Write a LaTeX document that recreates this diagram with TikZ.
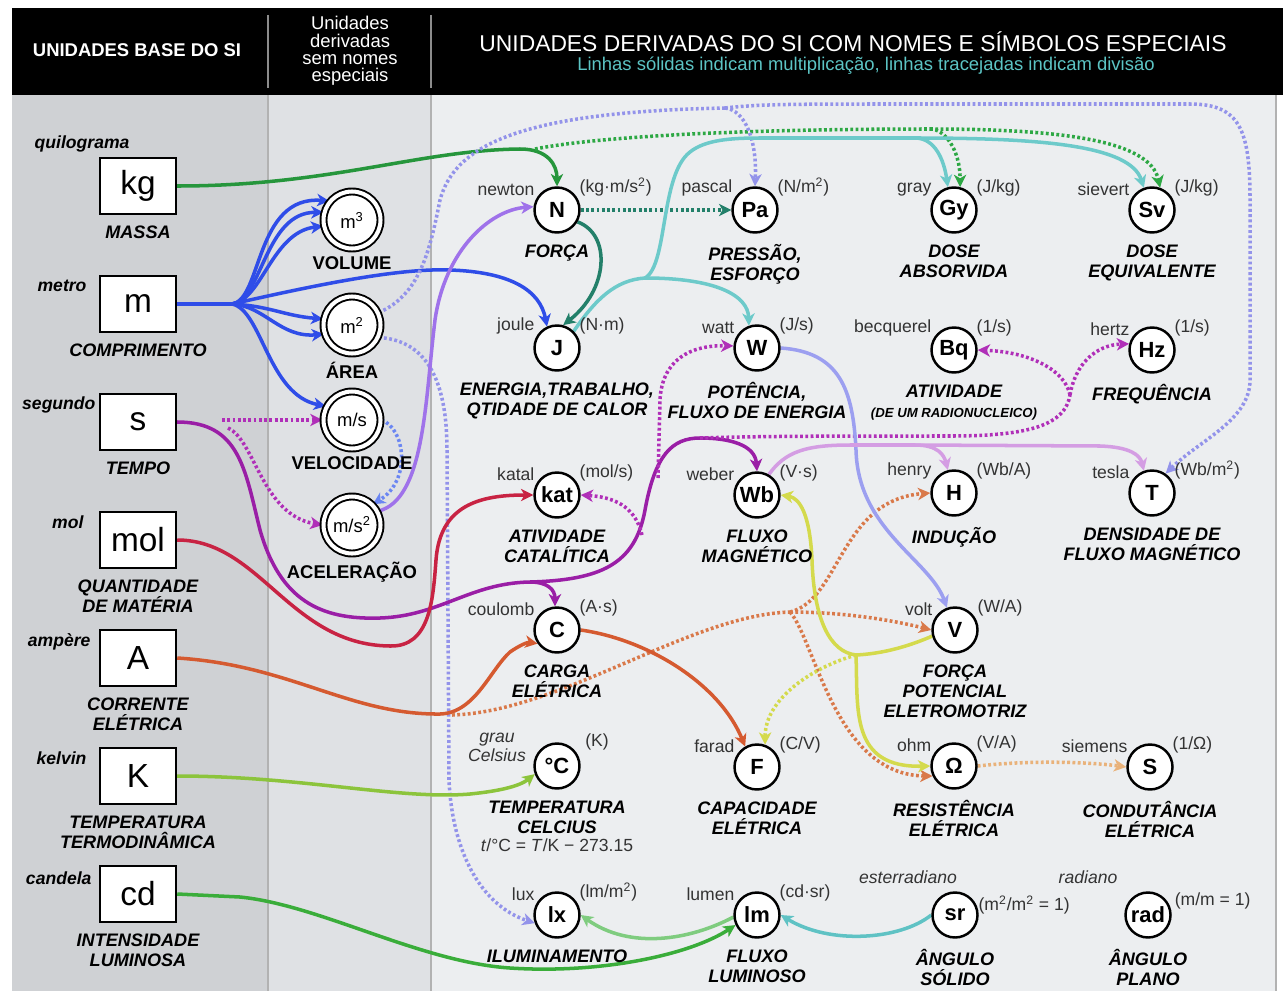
\documentclass[tikz,border=0pt]{standalone}
\usepackage{fontspec}
\setmainfont{Liberation Sans}
\usetikzlibrary{arrows.meta}

\definecolor{panelBase}{HTML}{CFD1D4}
\definecolor{panelMid}{HTML}{DFE1E4}
\definecolor{panelMain}{HTML}{ECEEF0}
\definecolor{subCyan}{HTML}{5CC4C4}
\definecolor{kgGreen}{HTML}{26963C}
\definecolor{kgDot}{HTML}{2DA844}
\definecolor{mBlue}{HTML}{2F4DE8}
\definecolor{areaDot}{HTML}{9393EA}
\definecolor{velDot}{HTML}{6B86F2}
\definecolor{accPurple}{HTML}{9F72EA}
\definecolor{sPurple}{HTML}{9A1EA6}
\definecolor{sDot}{HTML}{B02FB8}
\definecolor{molRed}{HTML}{C82343}
\definecolor{aOrange}{HTML}{D55A30}
\definecolor{aDot}{HTML}{D9794A}
\definecolor{kLime}{HTML}{8CC43C}
\definecolor{cdGreen}{HTML}{3AAD3A}
\definecolor{lmGreen}{HTML}{7FCC7F}
\definecolor{jCyan}{HTML}{6DCACA}
\definecolor{srTeal}{HTML}{5FC2C4}
\definecolor{nTeal}{HTML}{23806A}
\definecolor{wPeri}{HTML}{9C9FF0}
\definecolor{wbLav}{HTML}{D49DE3}
\definecolor{vYellow}{HTML}{D4DA4C}
\definecolor{ohmDot}{HTML}{E9B27A}

\newcommand\capFont{\bfseries\itshape\fontsize{10.3}{11.4}\selectfont}
\newcommand\radioFont{\fontsize{7.5}{9}\selectfont}
\newcommand\sq{\textsuperscript{2}}

\pgfdeclarelayer{background}
\pgfdeclarelayer{links}
\pgfsetlayers{background,links,main}

\begin{document}
\begin{tikzpicture}
[x=0.02cm,y=-0.02cm,
  baseBox/.style={shape=rectangle,draw,line width=1.4pt,fill=white,minimum width=1.52cm,minimum height=1.12cm,inner sep=0pt,font=\fontsize{19}{19}\selectfont},
  midCircle/.style={shape=circle,draw,fill=white,line width=1.1pt,double=white,double distance=2.3pt,minimum size=1.14cm,inner sep=0pt,font=\fontsize{10.5}{11}\selectfont},
  unitCircle/.style={shape=circle,draw,line width=1.4pt,fill=white,minimum size=0.9cm,inner sep=0pt,font=\bfseries\fontsize{12.5}{13}\selectfont},
  unitName/.style={inner sep=1pt,text=black!80,font=\fontsize{10}{11}\selectfont},
  unitNameIt/.style={inner sep=1pt,text=black!80,align=center,font=\itshape\fontsize{10}{10.8}\selectfont},
  baseName/.style={inner sep=0pt,font=\bfseries\itshape\fontsize{10}{11}\selectfont},
  capText/.style={inner sep=0pt,align=center,font=\capFont,yshift=-6pt},
  midText/.style={inner sep=0pt,font=\bfseries\fontsize{10.5}{12}\selectfont,yshift=-4pt},
  headText/.style={text=white,inner sep=0pt,align=center},
  link/.style={line width=2pt,-{Stealth[length=7pt,width=7pt,inset=2pt]}},
  dotLink/.style={link,dash pattern=on 1.6pt off 1.4pt},
  trunk/.style={line width=2pt},
  dotTrunk/.style={trunk,dash pattern=on 1.6pt off 1.4pt}]
\useasboundingbox (0,0) rectangle (1283,997);

%% panels and header
\begin{pgfonlayer}{background}
\fill[white] (0,0) rectangle (1283,997);
\fill[black] (12,8) rectangle (1283,95);
\fill[panelBase] (12,95) rectangle (268,991);
\fill[panelMid] (268,95) rectangle (431,991);
\fill[panelMain] (431,95) rectangle (1276,991);
\draw[black!30,line width=0.8pt] (268,95) -- (268,991) (431,95) -- (431,991) (1276,95) -- (1276,991);
\draw[black!45,line width=0.8pt] (268,15) -- (268,88) (431,15) -- (431,88);
\end{pgfonlayer}
\node (baseHead) at (137,50) [headText,font=\bfseries\fontsize{10.5}{12}\selectfont] {UNIDADES BASE DO SI};
\node (midHead) at (350,51) [headText,font=\fontsize{10.5}{9.8}\selectfont] {Unidades\\derivadas\\sem nomes\\especiais};
\node (mainHead) at (853,42) [headText,font=\fontsize{13}{14}\selectfont] {UNIDADES DERIVADAS DO SI COM NOMES E SÍMBOLOS ESPECIAIS};
\node (subHead) at (866,66) [headText,text=subCyan,font=\fontsize{10.5}{12}\selectfont] {Linhas sólidas indicam multiplicação, linhas tracejadas indicam divisão};

%% base units
\foreach \nodename/\y/\sym/\unitname/\capline/\dx/\dy in {
  kgU/186/kg/quilograma/MASSA/31/-8,
  mU/304/m/metro/COMPRIMENTO/-12/17,
  sU/422/s/segundo/TEMPO/-3/17,
  molU/540/mol/mol/{QUANTIDADE\\DE MATÉRIA}/-15/18,
  AU/658/A/ampère/{CORRENTE\\ELÉTRICA}/-8/18,
  KU/776/K/kelvin/{TEMPERATURA\\TERMODINÂMICA}/-12/18,
  cdU/894/cd/candela/{INTENSIDADE\\LUMINOSA}/-7/20}
{
  \node (\nodename) at (138,\y) [baseBox] {\sym};
  \node (\nodename-name) at ([shift={(\dx,\dy)}]\nodename.north west) [baseName,anchor=base east] {\unitname};
  \node (\nodename-cap) at (\nodename.south) [capText,anchor=north] {\capline};
}

%% derived units without special names
\foreach \nodename/\y/\sym/\capline in {
  vol/220/m\textsuperscript{3}/VOLUME, area/325/m\sq/ÁREA, vel/420/{m/s}/VELOCIDADE, acc/525/{m/s\sq}/ACELERAÇÃO}
{
  \node (\nodename) at (352,\y) [midCircle] {\sym};
  \node (\nodename-cap) at (\nodename.south) [midText,anchor=north] {\capline};
}

%% derived units with special names
\foreach \nodename/\x/\y/\sym/\unitname/\formula/\capline in {
  N/557/210/N/newton/{(kg·m/s\sq)}/FORÇA,
  Pa/755/210/Pa/pascal/{(N/m\sq)}/{PRESSÃO,\\ESFORÇO},
  Gy/954/210/Gy/gray/{(J/kg)}/{DOSE\\ABSORVIDA},
  Sv/1152/210/Sv/sievert/{(J/kg)}/{DOSE\\EQUIVALENTE},
  J/557/348/J/joule/{(N·m)}/{ENERGIA,TRABALHO,\\QTIDADE DE CALOR},
  W/757/348/W/watt/{(J/s)}/{POTÊNCIA,\\FLUXO DE ENERGIA},
  Bq/954/350/Bq/becquerel/{(1/s)}/{ATIVIDADE\\{\radioFont (DE UM RADIONUCLEICO)}},
  Hz/1152/350/Hz/hertz/{(1/s)}/FREQUÊNCIA,
  kat/557/495/kat/katal/{(mol/s)}/{ATIVIDADE\\CATALÍTICA},
  Wb/757/495/Wb/weber/{(V·s)}/{FLUXO\\MAGNÉTICO},
  H/954/493/H/henry/{(Wb/A)}/INDUÇÃO,
  T/1152/493/T/tesla/{(Wb/m\sq)}/{DENSIDADE DE\\FLUXO MAGNÉTICO},
  C/557/630/C/coulomb/{(A·s)}/{CARGA\\ELÉTRICA},
  V/955/630/V/volt/{(W/A)}/{FORÇA\\POTENCIAL\\ELETROMOTRIZ},
  F/757/767/F/farad/{(C/V)}/{CAPACIDADE\\ELÉTRICA},
  ohm/954/766/Ω/ohm/{(V/A)}/{RESISTÊNCIA\\ELÉTRICA},
  S/1150/767/S/siemens/{(1/Ω)}/{CONDUTÂNCIA\\ELÉTRICA},
  lx/557/915/lx/lux/{(lm/m\sq)}/ILUMINAMENTO,
  lm/757/915/lm/lumen/{(cd·sr)}/{FLUXO\\LUMINOSO}}
{
  \node (\nodename) at (\x,\y) [unitCircle] {\sym};
  \node (\nodename-name) at (\nodename.150) [unitName,anchor=south east] {\unitname};
  \node (\nodename-unit) at (\nodename.30) [unitName,anchor=south west] {\formula};
  \node (\nodename-cap) at (\nodename.south) [capText,anchor=north] {\capline};
}
\foreach \nodename/\x/\y/\sym in {degC/557/766/°C, sr/955/915/sr, rad/1148/915/rad}
{
  \node (\nodename) at (\x,\y) [unitCircle] {\sym};
}
\node (degC-name) at ([shift={(-60,-19)}]degC) [unitNameIt] {grau\\Celsius};
\node (degC-unit) at ([shift={(40,-24)}]degC) [unitName] {(K)};
\node (degC-cap) at (degC.south) [capText,anchor=north] {TEMPERATURA\\CELCIUS};
\node (degC-rel) at (degC-cap.south) [unitName,anchor=north,yshift=-2pt] {\textit{t}/°C = \textit{T}/K − 273.15};
\node (sr-name) at ([shift={(-47,-38)}]sr) [unitNameIt] {esterradiano};
\node (sr-unit) at (sr.25) [unitName,anchor=west] {(m\sq/m\sq{} = 1)};
\node (sr-cap) at (sr.south) [capText,anchor=north] {ÂNGULO\\SÓLIDO};
\node (rad-name) at ([shift={(-60,-38)}]rad) [unitNameIt] {radiano};
\node (rad-unit) at ([xshift=3pt]rad.35) [unitName,anchor=west] {(m/m = 1)};
\node (rad-cap) at (rad.south) [capText,anchor=north] {ÂNGULO\\PLANO};

%% connectors
\coordinate (kgSplit) at (535,149);
\coordinate (kgFork) at (930,129);
\coordinate (mFork) at (232,304);
\coordinate (areaFork) at (725,108);
\coordinate (sDotA) at (222,420);
\coordinate (sDotB) at (228,428);
\coordinate (sFork) at (530,582);
\coordinate (sPeak) at (700,438);
\coordinate (katDot) at (642,535);
\coordinate (wDot) at (658,478);
\coordinate (freqFork) at (1070,395);
\coordinate (aDotStart) at (452,715);
\coordinate (aFork) at (790,612);
\coordinate (jFork) at (645,278);
\coordinate (jTop) at (915,138);
\coordinate (wbFork) at (915,445);
\coordinate (vFork) at (856,655);
\begin{pgfonlayer}{links}
% kilogram
\draw[link,kgGreen] (kgU.east) .. controls (330,186) and (420,150) .. (520,149) .. controls (548,149) and (557,165) .. (N.north);
\draw[dotTrunk,kgDot] (kgSplit) .. controls (600,136) and (750,129) .. (kgFork);
\draw[dotLink,kgDot] (kgFork) .. controls (945,129) and (960,150) .. (Gy.75);
\draw[dotLink,kgDot] (kgFork) .. controls (1060,129) and (1150,140) .. (Sv.70);
% metre
\draw[trunk,mBlue] (mU.east) -- (mFork);
\draw[link,mBlue] (mFork) .. controls (262,300) and (255,195) .. (vol.140);
\draw[link,mBlue] (mFork) .. controls (262,300) and (265,212) .. (vol.165);
\draw[link,mBlue] (mFork) .. controls (262,300) and (272,232) .. (vol.192);
\draw[link,mBlue] (mFork) .. controls (270,306) and (285,316) .. (area.168);
\draw[link,mBlue] (mFork) .. controls (265,306) and (280,338) .. (area.198);
\draw[link,mBlue] (mFork) .. controls (262,310) and (268,395) .. (vel.152);
\draw[link,mBlue] (mFork) .. controls (320,284) and (400,268) .. (450,270) .. controls (510,272) and (540,290) .. (J.115);
\draw[dotTrunk,areaDot] (area.25) .. controls (420,295) and (430,250) .. (440,200) .. controls (455,145) and (520,112) .. (areaFork);
\draw[dotLink,areaDot] (areaFork) .. controls (745,110) and (757,140) .. (Pa.north);
\draw[dotLink,areaDot] (areaFork) .. controls (760,104) and (800,104) .. (900,104) -- (1190,104) .. controls (1240,104) and (1250,130) .. (1250,200) -- (1250,380) .. controls (1250,420) and (1200,440) .. (T.55);
\draw[dotLink,areaDot] (area.-25) .. controls (420,340) and (447,370) .. (447,450) -- (449,780) .. controls (452,850) and (480,905) .. (lx.200);
\draw[dotLink,velDot] (vel.east) .. controls (405,428) and (412,480) .. (acc.45);
\draw[link,accPurple] (acc.28) .. controls (425,500) and (425,400) .. (435,320) .. controls (445,250) and (490,210) .. (N.172);
% second
\draw[trunk,sPurple] (sU.east) .. controls (240,422) and (245,470) .. (260,530) .. controls (280,600) and (320,620) .. (380,618) .. controls (440,616) and (470,583) .. (sFork);
\draw[link,sPurple] (sFork) .. controls (548,582) and (555,590) .. (C.95);
\draw[link,sPurple] (sFork) .. controls (600,580) and (635,565) .. (645,510) .. controls (655,455) and (672,438) .. (sPeak) .. controls (730,438) and (755,445) .. (Wb.north);
\draw[dotLink,sDot] (sDotA) -- (vel.west);
\draw[dotLink,sDot] (sDotB) .. controls (255,440) and (262,515) .. (acc.west);
\draw[dotLink,sDot] (katDot) .. controls (635,505) and (612,497) .. (kat.east);
\draw[dotLink,sDot] (wDot) -- (660,400) .. controls (662,360) and (690,345) .. (W.175);
\draw[dotTrunk,sDot] (sPeak) .. controls (760,436) and (850,436) .. (950,436) .. controls (1030,436) and (1065,425) .. (freqFork);
\draw[dotLink,sDot] (freqFork) .. controls (1075,365) and (1095,345) .. (Hz.165);
\draw[dotLink,sDot] (freqFork) .. controls (1065,370) and (1030,352) .. (Bq.east);
% mole
\draw[link,molRed] (molU.east) .. controls (260,540) and (290,645) .. (390,646) .. controls (430,647) and (433,600) .. (436,560) .. controls (440,505) and (480,495) .. (kat.west);
% ampere
\draw[link,aOrange] (AU.east) .. controls (290,665) and (350,715) .. (440,714) .. controls (475,713) and (490,670) .. (510,652) .. controls (520,645) and (528,642) .. (C.215);
\draw[dotTrunk,aDot] (aDotStart) .. controls (560,712) and (690,615) .. (aFork);
\draw[dotLink,aDot] (aFork) .. controls (850,612) and (900,622) .. (V.west);
\draw[dotLink,aDot] (aFork) .. controls (840,600) and (840,500) .. (H.west);
\draw[dotLink,aDot] (aFork) .. controls (815,640) and (835,775) .. (ohm.205);
\draw[link,aOrange] (C.east) .. controls (650,640) and (720,685) .. (F.120);
% kelvin and candela
\draw[link,kLime] (KU.east) .. controls (300,776) and (400,800) .. (470,794) .. controls (500,791) and (520,786) .. (degC.200);
\draw[link,cdGreen] (cdU.east) -- (240,897) .. controls (320,905) and (420,962) .. (510,968) .. controls (600,974) and (690,955) .. (lm.205);
\draw[link,lmGreen] (lm.185) .. controls (690,940) and (630,950) .. (lx.east);
\draw[link,srTeal] (sr.west) .. controls (900,940) and (830,945) .. (lm.east);
% newton, joule, watt
\draw[dotLink,nTeal] (N.east) -- (Pa.west);
\draw[link,nTeal] (N.330) .. controls (612,235) and (608,290) .. (J.75);
\draw[trunk,jCyan] (J.45) .. controls (595,300) and (615,280) .. (jFork);
\draw[link,jCyan] (jFork) .. controls (715,278) and (748,295) .. (W.110);
\draw[trunk,jCyan] (jFork) .. controls (668,265) and (660,175) .. (690,152) .. controls (705,140) and (730,138) .. (760,138) -- (jTop);
\draw[link,jCyan] (jTop) .. controls (935,138) and (944,160) .. (Gy.105);
\draw[link,jCyan] (jTop) .. controls (1040,138) and (1130,145) .. (Sv.110);
\draw[link,wPeri] (W.east) .. controls (840,352) and (853,390) .. (856,450) .. controls (858,530) and (930,560) .. (V.110);
% weber and volt
\draw[trunk,wbLav] (Wb.60) .. controls (785,452) and (805,445) .. (850,445) -- (wbFork);
\draw[link,wbLav] (wbFork) .. controls (938,445) and (944,455) .. (H.105);
\draw[link,wbLav] (wbFork) -- (1100,446) .. controls (1130,447) and (1140,455) .. (T.110);
\draw[trunk,vYellow] (V.195) .. controls (900,650) and (875,654) .. (vFork);
\draw[link,vYellow] (vFork) .. controls (830,652) and (814,620) .. (812,560) .. controls (810,515) and (800,498) .. (Wb.east);
\draw[link,vYellow] (vFork) .. controls (858,710) and (850,768) .. (ohm.west);
\draw[dotLink,vYellow] (vFork) .. controls (810,668) and (765,700) .. (F.70);
\draw[dotLink,ohmDot] (ohm.east) .. controls (1030,760) and (1090,762) .. (S.west);
\end{pgfonlayer}
\end{tikzpicture}
\end{document}
